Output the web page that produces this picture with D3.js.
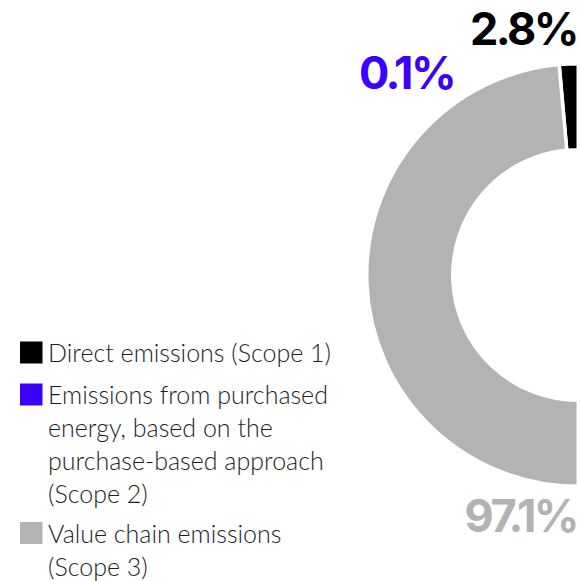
<!DOCTYPE html>
<html>
<head>
<meta charset="utf-8">
<script src="https://cdn.jsdelivr.net/npm/d3@7"></script>
<style>
  html, body { margin: 0; padding: 0; background: #fff; }
  svg { display: block; }
</style>
</head>
<body>
<svg id="chart" width="580" height="581"></svg>
<script>
// Emissions split by scope (percent of total)
const categories = ["Scope 1", "Scope 2", "Scope 3"];
const shares = [2.8, 0.1, 97.1];
const shareLabels = ["2.8%", "0.1%", "97.1%"];
const colors = ["#000000", "#3c00ff", "#b3b3b3"];
const legendLines = [
  ["Direct emissions (Scope 1)"],
  ["Emissions from purchased", "energy, based on the", "purchase-based approach", "(Scope 2)"],
  ["Value chain emissions", "(Scope 3)"]
];

const svg = d3.select("#chart");

const cx = 578, cy = 275;
const outerR = 211, innerR = 125.5;

// Half donut: 100% spread over the left half, running counter-clockwise from 12 o'clock
const pie = d3.pie()
  .value(d => d)
  .sort(null)
  .startAngle(0)
  .endAngle(-Math.PI);

const arc = d3.arc()
  .innerRadius(innerR)
  .outerRadius(outerR);

const arcs = pie(shares);

// White outlines act as the separators between slices
svg.append("g")
  .attr("transform", `translate(${cx},${cy})`)
  .selectAll("path")
  .data(arcs)
  .join("path")
  .attr("d", arc)
  .attr("fill", (d, i) => colors[i])
  .attr("stroke", "#fff")
  .attr("stroke-width", 3)
  .attr("stroke-linejoin", "miter");

// Value labels
const labelFont = "Inter, 'DejaVu Sans', sans-serif";
const labelPos = [
  { x: 577, y: 45, anchor: "end" },
  { x: 359, y: 89, anchor: "start" },
  { x: 577, y: 532, anchor: "end" }
];
svg.append("g")
  .selectAll("text")
  .data(shareLabels)
  .join("text")
  .attr("x", (d, i) => labelPos[i].x)
  .attr("y", (d, i) => labelPos[i].y)
  .attr("text-anchor", (d, i) => labelPos[i].anchor)
  .attr("font-family", labelFont)
  .attr("font-weight", 700)
  .attr("font-size", 45)
  .attr("letter-spacing", -2.5)
  .attr("fill", (d, i) => colors[i])
  .text(d => d);

// Legend
const legend = svg.append("g").attr("font-family", "Lato, 'Open Sans', sans-serif");
const itemTops = [341.5, 383.5, 522];
const lineH = 32.8;
legendLines.forEach((lines, i) => {
  const g = legend.append("g").attr("transform", `translate(20,${itemTops[i]})`);
  g.append("rect")
    .attr("width", 22.5)
    .attr("height", 22)
    .attr("fill", colors[i]);
  g.selectAll("text")
    .data(lines)
    .join("text")
    .attr("x", 28)
    .attr("y", (d, j) => 20.8 + j * lineH)
    .attr("font-size", 25)
    .attr("font-weight", 300)
    .attr("fill", "#1e1e1e")
    .text(d => d);
});
</script>
</body>
</html>
